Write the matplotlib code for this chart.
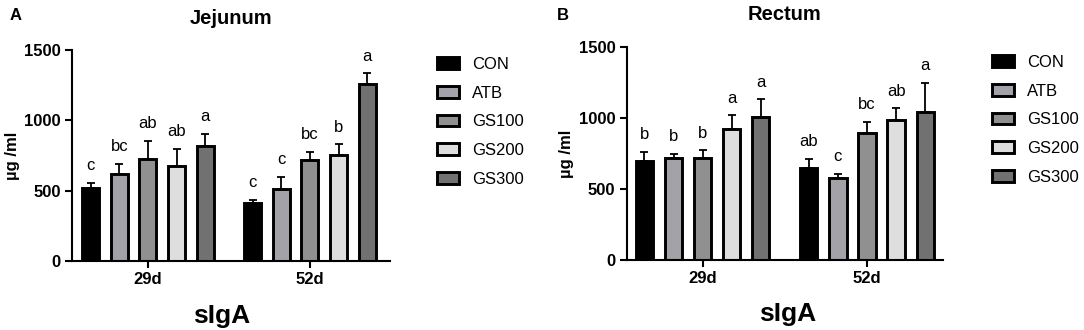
import numpy as np
import matplotlib
matplotlib.use("Agg")
import matplotlib.pyplot as plt

plt.rcParams['font.family'] = ['Liberation Sans', 'DejaVu Sans']

groups = ['CON', 'ATB', 'GS100', 'GS200', 'GS300']
days = ['29d', '52d']
colors = ['#000000', '#a2a2a8', '#909090', '#dedede', '#717171']

# mean and SD (upper), rows = day, cols = group
jej_mean = [[520, 622, 724, 679, 817],
            [413, 511, 722, 753, 1256]]
jej_err = [[38, 69, 131, 121, 88],
           [24, 87, 54, 76, 79]]
jej_letters = [['c', 'bc', 'ab', 'ab', 'a'],
               ['c', 'c', 'bc', 'b', 'a']]

rec_mean = [[700, 718, 718, 922, 1009],
            [648, 578, 892, 983, 1041]]
rec_err = [[60, 28, 54, 96, 122],
           [66, 28, 82, 84, 204]]
rec_letters = [['b', 'b', 'b', 'a', 'a'],
               ['ab', 'c', 'bc', 'ab', 'a']]

STEP = 0.177
WIDTH = 0.105


def draw_panel(ax, mean, err, letters, title, xlim):
    mean = np.array(mean)
    err = np.array(err)
    x0 = np.arange(len(days))
    for i, g in enumerate(groups):
        xs = x0 + (i - 2) * STEP
        ax.bar(xs, mean[:, i], WIDTH, color=colors[i], edgecolor='black',
               linewidth=2.1, label=g, zorder=2)
        ax.errorbar(xs, mean[:, i], yerr=[np.zeros(len(days)), err[:, i]],
                    fmt='none', ecolor='black', elinewidth=1.3, capsize=3,
                    capthick=1.3, zorder=1)
        for j in range(len(days)):
            ax.annotate(letters[j][i], (xs[j], mean[j, i] + err[j, i]),
                        xytext=(0, 7), textcoords='offset points',
                        ha='center', va='bottom', fontsize=12)
    ax.set_xlim(*xlim)
    ax.set_ylim(0, 1500)
    ax.set_yticks([0, 500, 1000, 1500])
    ax.set_xticks(x0)
    ax.set_xticklabels(days)
    for s in ['top', 'right']:
        ax.spines[s].set_visible(False)
    for s in ['left', 'bottom']:
        ax.spines[s].set_linewidth(1.5)
    ax.tick_params(width=1.5, length=5, labelsize=12, pad=3)
    for lab in ax.get_xticklabels() + ax.get_yticklabels():
        lab.set_fontweight('bold')
    ax.set_title(title, fontsize=14.5, fontweight='bold', pad=19)
    ax.set_ylabel('µg /ml', fontsize=12, fontweight='bold')
    ax.set_xlabel('sIgA', fontsize=19, fontweight='bold')


fig = plt.figure(figsize=(10.84, 3.3), dpi=100)
ax1 = fig.add_axes([0.0664, 0.209, 0.2934, 0.639])
ax2 = fig.add_axes([0.578, 0.211, 0.292, 0.647])

draw_panel(ax1, jej_mean, jej_err, jej_letters, 'Jejunum', (-0.469, 1.494))
draw_panel(ax2, rec_mean, rec_err, rec_letters, 'Rectum', (-0.463, 1.463))

ax1.yaxis.set_label_coords(-0.164, 0.5)
ax1.xaxis.set_label_coords(0.47, -0.205)
ax2.yaxis.set_label_coords(-0.165, 0.5)
ax2.xaxis.set_label_coords(0.51, -0.197)

leg_kw = dict(loc='upper left', frameon=False, fontsize=12, borderpad=0,
              borderaxespad=0, handlelength=1.32, handleheight=0.72,
              labelspacing=0.82, handletextpad=0.78)
h, l = ax1.get_legend_handles_labels()
fig.legend(h, l, bbox_to_anchor=(437 / 1084, 1 - 57 / 330), **leg_kw)
h, l = ax2.get_legend_handles_labels()
fig.legend(h, l, bbox_to_anchor=(992 / 1084, 1 - 55 / 330), **leg_kw)

fig.text(10 / 1084, 1 - 20 / 330, 'A', fontsize=12, fontweight='bold', va='baseline')
fig.text(557 / 1084, 1 - 20 / 330, 'B', fontsize=12, fontweight='bold', va='baseline')

fig.savefig('out.png', dpi=100)
